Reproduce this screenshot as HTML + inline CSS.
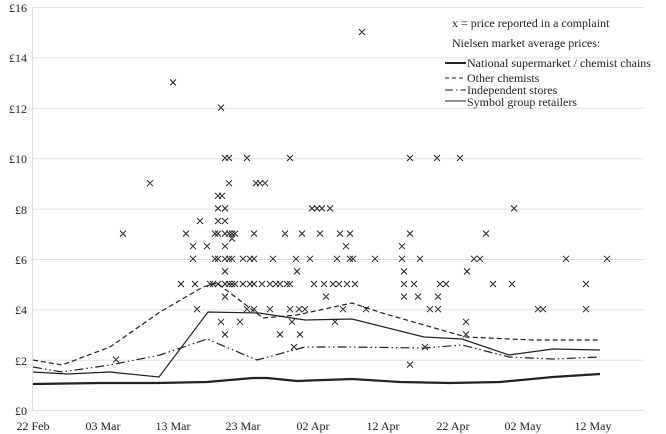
<!DOCTYPE html>
<html><head><meta charset="utf-8"><style>
html,body{margin:0;padding:0;background:#fff;}
svg{display:block;}
text{font-family:"Liberation Serif","Times New Roman",Times,"DejaVu Serif",serif;}
</style></head><body>
<svg id="c" width="666" height="434" viewBox="0 0 666 434" xmlns="http://www.w3.org/2000/svg">
<g stroke="#e0e0e0" stroke-width="1">
<line x1="32" y1="7.5" x2="643" y2="7.5"/><line x1="32" y1="57.9" x2="643" y2="57.9"/>
<line x1="32" y1="108.3" x2="643" y2="108.3"/><line x1="32" y1="158.7" x2="643" y2="158.7"/>
<line x1="32" y1="209.1" x2="643" y2="209.1"/><line x1="32" y1="259.5" x2="643" y2="259.5"/>
<line x1="32" y1="309.9" x2="643" y2="309.9"/><line x1="32" y1="360.3" x2="643" y2="360.3"/>
<line x1="32" y1="410.5" x2="643" y2="410.5"/><line x1="32.5" y1="7" x2="32.5" y2="410"/>
</g>
<g font-size="12" fill="#222" text-anchor="end">
<text x="27" y="12">£16</text><text x="27" y="62">£14</text><text x="27" y="113">£12</text>
<text x="27" y="163">£10</text><text x="27" y="214">£8</text><text x="27" y="264">£6</text>
<text x="27" y="314">£4</text><text x="27" y="365">£2</text><text x="27" y="415">£0</text>
</g>
<g font-size="12" fill="#222" text-anchor="middle">
<text x="33" y="430">22 Feb</text><text x="103" y="430">03 Mar</text><text x="173" y="430">13 Mar</text>
<text x="243" y="430">23 Mar</text><text x="313" y="430">02 Apr</text><text x="383" y="430">12 Apr</text>
<text x="453" y="430">22 Apr</text><text x="523" y="430">02 May</text><text x="593" y="430">12 May</text>
</g>
<g fill="none" stroke="#222">
<polyline stroke-width="2.2" points="33,384 100,383 157,383 207,382 253,378 267,378 297,381 352,379 400,382 450,383 500,382 553,377 600,374"/>
<polyline stroke-width="1.2" stroke-dasharray="5,3" points="33,360 62,365 110,347 160,312 203,287 217,283 263,318 297,315 352,303 382,313 424,325 466,337 533,340 600,340"/>
<polyline stroke-width="1.2" points="33,372 67,374 110,372 159,377 208,312 259,313 305,320 352,319 424,337 462,339 509,355 553,349 600,350"/>
<polyline stroke-width="1.2" stroke-dasharray="9,3,1.5,3,1.5,3" points="33,367 62,372 110,365 160,355 207,339 257,360 305,347 352,347 424,348 462,345 509,357 553,359 600,357"/>
</g>
<g id="xs" stroke="#222" stroke-width="1" fill="none"></g>
<g font-size="12" fill="#222">
<text x="452" y="27">x = price reported in a complaint</text>
<text x="452" y="47">Nielsen market average prices:</text>
<text x="467" y="67">National supermarket / chemist chains</text>
<text x="467" y="82">Other chemists</text>
<text x="467" y="94">Independent stores</text>
<text x="467" y="106">Symbol group retailers</text>
</g>
<g stroke="#222" fill="none">
<line x1="445" y1="63" x2="466" y2="63" stroke-width="2"/>
<line x1="445" y1="78" x2="466" y2="78" stroke-dasharray="4,3"/>
<line x1="445" y1="90" x2="466" y2="90" stroke-dasharray="8,3,1.5,3"/>
<line x1="445" y1="101" x2="466" y2="101"/>
</g>
</svg>
<script>
var p=[[123,7],[150,9],[173,13],[181,5],[186,7],[193,6.5],[193,6],[195,5],[197,4],[200,7.5],[207,6.5],[210,5],[213,5],[215,6],[215,7],[218,8.5],[218,8],[218,7.5],[218,7],[218,6],[218,5],[221,12],[221,3.5],[222,8.5],[225,10],[225,8],[225,7.5],[225,7],[225,6.5],[225,6],[225,5.5],[225,5],[225,4.5],[225,3],[229,10],[229,9],[229,7],[229,6],[229,5],[232,7],[232,6.8],[232,6],[232,5],[235,7],[235,5],[240,3.5],[243,6],[243,5],[247,10],[247,4],[250,6],[250,5],[254,7],[254,6],[254,5],[254,4],[256,9],[260,9],[265,9],[262,5],[270,5],[270,4],[273,6],[276,5],[280,5],[280,3],[285,7],[287,5],[290,10],[290,5],[290,4],[292,3.5],[294,2.5],[296,6],[297,5.5],[299,4],[300,3],[302,7],[305,4],[310,6],[312,8],[314,5],[317,8],[320,7],[322,8],[324,5],[326,4.5],[330,8],[333,5],[335,3.5],[337,6],[339,5],[340,7],[343,4],[346,6.5],[347,5],[350,7],[350,6],[353,6],[355,5],[362,15],[366,4],[375,6],[402,6.5],[402,6],[404,5.5],[404,5],[404,4.5],[410,10],[410,7],[410,1.8],[414,5],[418,4.5],[420,6],[425,2.5],[430,4],[437,10],[438,4.5],[438,4],[440,5],[446,5],[460,10],[466,3.5],[466,3],[467,5.5],[474,6],[480,6],[486,7],[493,5],[514,8],[512,5],[538,4],[543,4],[566,6],[586,5],[586,4],[607,6],[116,2]];
var s='';p.forEach(function(a){var x=a[0],y=410-25.2*a[1];s+='M'+(x-3)+' '+(y-3)+'L'+(x+3)+' '+(y+3)+'M'+(x+3)+' '+(y-3)+'L'+(x-3)+' '+(y+3);});
document.getElementById('xs').innerHTML='<path d="'+s+'"/>';
</script>
</body></html>
